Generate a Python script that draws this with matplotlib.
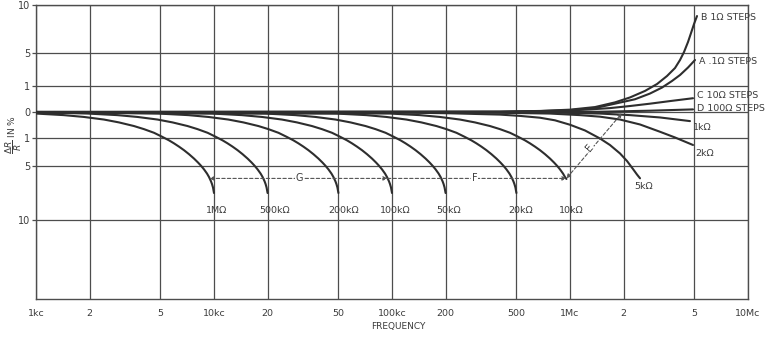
import numpy as np
import matplotlib
matplotlib.use('Agg')
import matplotlib.pyplot as plt

# ---------------- data (frequency in kc, dR/R in %) ----------------
freq_1M = [1.0, 1.432, 1.857, 2.408, 2.923, 3.551, 4.045, 4.604, 5.102, 5.582, 5.956, 6.355,
           6.782, 7.236, 7.722, 8.130, 8.452, 8.787, 9.135, 9.374, 9.619, 9.744, 9.872, 10.0]
val_1M = [-0.06, -0.12, -0.19, -0.29, -0.40, -0.54, -0.66, -0.80, -0.95, -1.33, -1.76, -2.23,
          -2.74, -3.31, -3.94, -4.5, -4.96, -5.31, -5.70, -6.02, -6.42, -6.67, -6.99, -7.5]

freq_500k = [1.0, 1.948, 2.864, 3.714, 4.816, 5.846, 7.102, 8.09, 9.208, 10.20, 11.16, 11.91, 12.71,
             13.56, 14.47, 15.44, 16.26, 16.90, 17.57, 18.27, 18.75, 19.24, 19.49, 19.74, 20.0]
val_500k = [-0.01, -0.06, -0.12, -0.19, -0.29, -0.40, -0.54, -0.66, -0.80, -0.95, -1.33, -1.76, -2.23,
            -2.74, -3.31, -3.94, -4.5, -4.96, -5.31, -5.70, -6.02, -6.42, -6.67, -6.99, -7.5]

freq_200k = [1.0, 4.87, 7.16, 9.285, 12.04, 14.62, 17.76, 20.23, 23.02, 25.51, 27.91, 29.78, 31.78,
             33.91, 36.18, 38.61, 40.65, 42.26, 43.94, 45.68, 46.87, 48.10, 48.72, 49.36, 50.0]
val_200k = [-0.01, -0.06, -0.12, -0.19, -0.29, -0.40, -0.54, -0.66, -0.80, -0.95, -1.33, -1.76, -2.23,
            -2.74, -3.31, -3.94, -4.5, -4.96, -5.31, -5.70, -6.02, -6.42, -6.67, -6.99, -7.5]

freq_100k = [1.0, 9.74, 14.32, 18.57, 24.08, 29.23, 35.51, 40.45, 46.04, 51.02, 55.82, 59.56, 63.55,
             67.82, 72.36, 77.22, 81.30, 84.52, 87.87, 91.35, 93.74, 96.19, 97.44, 98.72, 100.0]
val_100k = [-0.01, -0.06, -0.12, -0.19, -0.29, -0.40, -0.54, -0.66, -0.80, -0.95, -1.33, -1.76, -2.23,
            -2.74, -3.31, -3.94, -4.5, -4.96, -5.31, -5.70, -6.02, -6.42, -6.67, -6.99, -7.5]

freq_50k = [1.0, 19.48, 28.64, 37.14, 48.16, 58.46, 71.02, 80.9, 92.08, 102.0, 111.6, 119.1, 127.1,
            135.6, 144.7, 154.4, 162.6, 169.0, 175.7, 182.7, 187.5, 192.4, 194.9, 197.4, 200.0]
val_50k = [-0.01, -0.06, -0.12, -0.19, -0.29, -0.40, -0.54, -0.66, -0.80, -0.95, -1.33, -1.76, -2.23,
           -2.74, -3.31, -3.94, -4.5, -4.96, -5.31, -5.70, -6.02, -6.42, -6.67, -6.99, -7.5]

freq_20k = [1.0, 48.7, 71.6, 92.85, 120.4, 146.2, 177.6, 202.3, 230.2, 255.1, 279.1, 297.8, 317.8,
            339.1, 361.8, 386.1, 406.5, 422.6, 439.4, 456.8, 468.7, 481.0, 487.2, 493.6, 500.0]
val_20k = [-0.01, -0.06, -0.12, -0.19, -0.29, -0.40, -0.54, -0.66, -0.80, -0.95, -1.33, -1.76, -2.23,
           -2.74, -3.31, -3.94, -4.5, -4.96, -5.31, -5.70, -6.02, -6.42, -6.67, -6.99, -7.5]

freq_10k = [1.0, 97.4, 143.2, 185.7, 240.8, 292.3, 355.1, 404.5, 460.4, 510.2, 558.2, 595.6, 635.5,
            678.2, 723.6, 772.2, 813.0, 845.2, 878.7, 913.5, 937.4, 955.0]
val_10k = [-0.01, -0.06, -0.12, -0.19, -0.29, -0.40, -0.54, -0.66, -0.80, -0.95, -1.33, -1.76, -2.23,
           -2.74, -3.31, -3.94, -4.5, -4.96, -5.31, -5.70, -6.02, -6.2]

freq_5k = [1.0, 110.9, 211.7, 312.2, 404.4, 523.7, 678.3, 823.6, 1000, 1214, 1474, 1677, 1910,
           2091, 2259, 2379, 2474]
val_5k = [0.0, -0.02, -0.05, -0.08, -0.10, -0.15, -0.22, -0.32, -0.49, -0.71, -1.07, -2.0, -3.21,
          -4.29, -5.28, -5.79, -6.14]

freq_2k = [1.0, 211.7, 404.4, 772, 1138, 1474, 1910, 2474, 3203, 3890, 4910]
val_2k = [0.0, -0.01, -0.03, -0.06, -0.12, -0.18, -0.29, -0.48, -0.76, -0.98, -2.0]

freq_1k = [1.0, 404.4, 772, 1474, 2173, 3203, 4722]
val_1k = [0.0, -0.01, -0.02, -0.06, -0.12, -0.21, -0.35]

freq_D = [1.0, 600, 1474, 2814, 4910]
val_D = [0.0, 0.0, 0.01, 0.05, 0.1]

freq_C = [1.0, 404.4, 523.7, 878.8, 1296, 1677, 2173, 2814, 3645, 4910]
val_C = [0.0, 0.0, 0.01, 0.04, 0.10, 0.15, 0.23, 0.32, 0.42, 0.53]

freq_A = [1.0, 404.4, 678.3, 1000, 1382, 1789, 2318, 2814, 3288, 3742, 4150, 4603, 5038]
val_A = [0.0, 0.012, 0.035, 0.07, 0.15, 0.32, 0.49, 0.71, 0.94, 1.61, 2.33, 3.24, 4.15]

freq_B = [1.0, 404.4, 678.3, 1000, 1382, 1789, 2173, 2638, 3083, 3507, 3890, 4150, 4370, 4603,
          4785, 4974, 5170]
val_B = [0.0, 0.015, 0.04, 0.09, 0.19, 0.37, 0.56, 0.81, 1.24, 2.21, 3.18, 4.15, 5.10, 6.15,
         7.08, 8.02, 8.85]

bottom_labels = ['1M\u03a9', '500k\u03a9', '200k\u03a9', '100k\u03a9', '50k\u03a9', '20k\u03a9', '10k\u03a9']
right_labels = ['5k\u03a9', '2k\u03a9', '1k\u03a9', 'D 100\u03a9 STEPS', 'C 10\u03a9 STEPS',
                'A .1\u03a9 STEPS', 'B 1\u03a9 STEPS']

x_ticks = [1, 2, 5, 10, 20, 50, 100, 200, 500, 1000, 2000, 5000, 10000]
x_ticklabels = ['1kc', '2', '5', '10kc', '20', '50', '100kc', '200', '500', '1Mc', '2', '5', '10Mc']
y_ticks = [-10, -5, -1, 0, 1, 5, 10]
y_ticklabels = ['10', '5', '1', '0', '1', '5', '10']

# dashed arrows G, F, E  (freq kc, value %)
arrow_G = [(9.43, -6.15), (94.3, -6.15)]
arrow_F = [(94.3, -6.15), (955, -6.15)]
arrow_E = [(955, -6.15), (1960, -0.04)]

# ---------------- y scale (non-uniform, as on the original chart) ----------------
scale_vals = [-20, -10, -5, -1, 0, 1, 5, 10]
scale_pos = [-187, -108, -54, -26, 0, 26, 59, 107]


def fwd(v):
    return np.interp(v, scale_vals, scale_pos)


def inv(p):
    return np.interp(p, scale_pos, scale_vals)


INK = '#2e2e2e'
GRID = '#4d4d4d'
TXT = '#3c3c3c'
plt.rcParams['font.family'] = ['DejaVu Sans']

fig = plt.figure(figsize=(7.69, 3.37), dpi=100)
fig.patch.set_facecolor('white')
W, H = 769, 337
ax = fig.add_axes([36 / W, 1 - 299 / H, (748 - 36) / W, (299 - 5) / H])
ax.set_xscale('log')
ax.set_yscale('function', functions=(fwd, inv))
ax.set_xlim(1, 10000)
ax.set_ylim(-20, 10)

ax.set_xticks(x_ticks)
ax.set_xticklabels(x_ticklabels)
ax.xaxis.set_minor_locator(matplotlib.ticker.NullLocator())
ax.set_yticks(y_ticks)
ax.set_yticklabels(y_ticklabels)
ax.yaxis.set_minor_locator(matplotlib.ticker.NullLocator())
ax.tick_params(axis='x', length=0, pad=7, labelsize=6.8, labelcolor=TXT)
ax.tick_params(axis='y', length=3, width=0.9, color=GRID, pad=1, labelsize=7,
               labelcolor=TXT)
ax.grid(True, color=GRID, lw=0.9)
for s in ax.spines.values():
    s.set_color(GRID)
    s.set_linewidth(1.0)

curves = [(freq_1M, val_1M), (freq_500k, val_500k), (freq_200k, val_200k),
          (freq_100k, val_100k), (freq_50k, val_50k), (freq_20k, val_20k),
          (freq_10k, val_10k), (freq_5k, val_5k), (freq_2k, val_2k),
          (freq_1k, val_1k), (freq_D, val_D), (freq_C, val_C),
          (freq_A, val_A), (freq_B, val_B)]
for f, v in curves:
    ax.plot(f, v, color=INK, lw=1.5, solid_capstyle='round', solid_joinstyle='round', zorder=3)

tfs = 6.8
# bottom labels
b_offsets = [(3, 0), (7, 0), (5, 0), (3, 0), (3, 0), (4, 0), (5, 0)]
for (f, v), lab, off in zip(curves[:7], bottom_labels, b_offsets):
    ax.annotate(lab, xy=(f[-1], -9.15), xytext=off, textcoords='offset pixels',
                ha='center', va='center', fontsize=tfs, color=TXT, zorder=5)

# right labels
r_offsets = [(4, -8), (2, -8), (3, -6), (4, 1), (4, 3), (4, -1), (4, -1)]
r_ha = ['center', 'left', 'left', 'left', 'left', 'left', 'left']
for (f, v), lab, off, ha in zip(curves[7:], right_labels, r_offsets, r_ha):
    ax.annotate(lab, xy=(f[-1], v[-1]), xytext=off, textcoords='offset pixels',
                ha=ha, va='center', fontsize=tfs, color=TXT, zorder=5,
                annotation_clip=False)


def darrow(p0, p1, style):
    ax.annotate('', xy=p1, xytext=p0,
                arrowprops=dict(arrowstyle=style, color='#555555', lw=0.8,
                                linestyle=(0, (3, 2)), mutation_scale=6,
                                shrinkA=0, shrinkB=0), zorder=4)


darrow(arrow_G[0], arrow_G[1], '<|-|>')
darrow(arrow_F[0], arrow_F[1], '-|>')
darrow(arrow_E[0], arrow_E[1], '<|-|>')

bb = dict(facecolor='white', edgecolor='none', pad=0.5)
ax.text(30.3, -6.15, 'G', ha='center', va='center', fontsize=7, color=TXT, bbox=bb, zorder=5)
ax.text(292, -6.15, 'F', ha='center', va='center', fontsize=7, color=TXT, bbox=bb, zorder=5)
ax.text(1290, -2.4, 'E', ha='center', va='center', fontsize=7, color=TXT, rotation=50,
        bbox=bb, zorder=5)

fig.text(398 / W, 1 - 326 / H, 'FREQUENCY', ha='center', va='center', fontsize=6.5, color=TXT)
fig.text(14 / W, 1 - 135 / H, r'$\dfrac{\Delta R}{R}$ IN %', rotation=90, ha='center',
         va='center', fontsize=6.5, color=TXT)

fig.savefig('out.png', dpi=100, facecolor='white')
